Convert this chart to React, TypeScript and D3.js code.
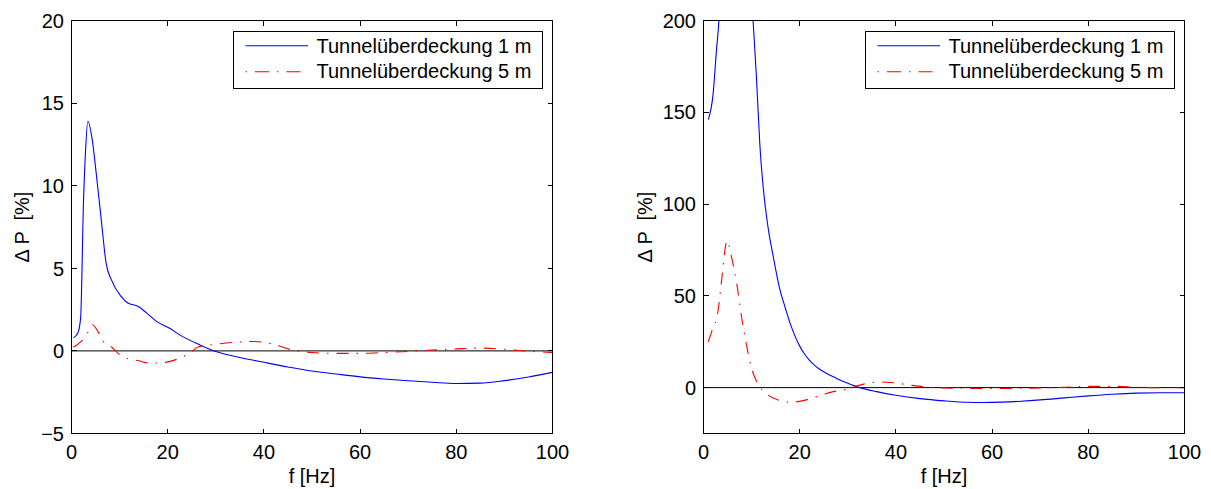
import { useMemo } from 'react';
import * as d3 from 'd3';

// left panel: Delta P [%] vs f [Hz]
const leftFreq1 = [0.4, 1.3, 1.9, 2.5, 2.9, 3.4, 4.3, 5.1, 6.2, 7.2, 8.3, 10.3, 11.7, 13.8, 15.6, 17.6, 20.4, 22.5, 26.7, 30, 35, 40, 45, 50, 55, 60, 65, 70, 75, 80, 85, 90, 95, 100];
const leftCover1 = [0.79, 1.07, 2.0, 9.1, 12.0, 13.9, 12.8, 10.85, 7.9, 5.3, 4.3, 3.3, 2.9, 2.7, 2.3, 1.8, 1.37, 0.97, 0.36, -0.04, -0.4, -0.69, -0.97, -1.22, -1.4, -1.57, -1.7, -1.81, -1.9, -1.97, -1.95, -1.8, -1.58, -1.3];
const leftFreq5 = [0.4, 2, 3.1, 4.4, 5.5, 6.9, 8.4, 10, 12.1, 14, 15.9, 18.3, 20.2, 22.5, 25, 26.3, 30, 34, 38, 42, 46, 50, 55, 60, 65, 70, 75, 80, 85, 90, 95, 100];
const leftCover5 = [0.22, 0.57, 0.97, 1.57, 1.17, 0.47, 0.22, -0.24, -0.5, -0.6, -0.73, -0.73, -0.65, -0.44, -0.05, 0.24, 0.4, 0.52, 0.57, 0.4, 0.05, -0.1, -0.15, -0.15, -0.1, -0.03, 0.05, 0.12, 0.17, 0.1, -0.02, -0.1];

// right panel
const rightFreq1 = [1, 2, 2.7, 3.2, 4, 5, 6, 7, 8, 9, 10.3, 11, 11.7, 12.4, 13.4, 14.5, 15.9, 17, 18, 19, 20, 21, 22, 23, 24, 25, 26, 27, 28, 30, 32.5, 36, 40, 45, 50, 55, 58, 62, 66, 70, 75, 80, 85, 90, 95, 100];
const rightCover1 = [146, 160, 184, 200, 260, 330, 380, 380, 330, 260, 200, 169.5, 133, 109.5, 87.7, 71.4, 53.2, 43.5, 35.1, 28.2, 22.6, 18.3, 15, 12.4, 10.3, 8.6, 7.2, 5.9, 4.6, 2.4, 0, -2.2, -4.2, -6, -7.2, -8, -8.1, -7.9, -7.4, -6.7, -5.6, -4.5, -3.6, -3.0, -2.8, -2.8];
const rightFreq5 = [1, 1.7, 3, 3.7, 4.9, 5.8, 6.9, 7.9, 9, 10, 11.7, 13.4, 15.5, 18, 20.7, 23.5, 27, 29.4, 33.3, 36.8, 39.6, 43.1, 46, 50, 55, 60, 65, 70, 75, 80, 85, 90, 95, 100];
const rightCover5 = [25, 30.5, 41.4, 56.9, 80, 71.4, 56.9, 38.7, 22.3, 10.6, 0.5, -4, -6.7, -8, -7.1, -4.9, -2.2, -1.1, 1.9, 3.1, 2.6, 1.3, 0.4, -0.2, -0.4, -0.5, -0.4, -0.2, 0.2, 0.7, 0.7, 0.2, -0.1, 0];

const xTicks = [0, 20, 40, 60, 80, 100];
const leftYTicks = [-5, 0, 5, 10, 15, 20];
const rightYTicks = [0, 50, 100, 150, 200];
const legendLabels = ['Tunnelüberdeckung 1 m', 'Tunnelüberdeckung 5 m'];

const FONT = '"Liberation Sans", Arial, Helvetica, sans-serif';
const fmt = d3.format('d');

function Panel({ id, x0, x1, yDomain, yTicks, f1, v1, f5, v5, labelX }) {
  const top = 20.5;
  const bottom = 433.5;
  const x = d3.scaleLinear().domain([0, 100]).range([x0, x1]);
  const y = d3.scaleLinear().domain(yDomain).range([bottom, top]);
  const line = d3.line().x(d => x(d[0])).y(d => y(d[1])).curve(d3.curveMonotoneX);
  const path1 = line(f1.map((f, i) => [f, v1[i]]));
  const path5 = line(f5.map((f, i) => [f, v5[i]]));
  const tl = 5;
  const lgRight = x1 - 10.5;
  const lgLeft = lgRight - 309;

  return (
    <g>
      <defs>
        <clipPath id={id}>
          <rect x={x0} y={top} width={x1 - x0} height={bottom - top} />
        </clipPath>
      </defs>
      <line x1={x(0)} x2={x(100)} y1={y(0)} y2={y(0)} stroke="#000" strokeWidth={1} />
      <g clipPath={`url(#${id})`}>
        <path d={path1} fill="none" stroke="#0000ff" strokeWidth={1.1} />
        <path d={path5} fill="none" stroke="#ff0000" strokeWidth={1.1} strokeDasharray="12,8,1.5,8" />
      </g>
      {/* ticks on all four sides, pointing inward */}
      <g stroke="#000" strokeWidth={1} shapeRendering="crispEdges">
        {xTicks.map(t => (
          <g key={'x' + t}>
            <line x1={x(t)} x2={x(t)} y1={bottom} y2={bottom - tl} />
            <line x1={x(t)} x2={x(t)} y1={top} y2={top + tl} />
          </g>
        ))}
        {yTicks.map(t => (
          <g key={'y' + t}>
            <line x1={x0} x2={x0 + tl} y1={y(t)} y2={y(t)} />
            <line x1={x1} x2={x1 - tl} y1={y(t)} y2={y(t)} />
          </g>
        ))}
        <rect x={x0} y={top} width={x1 - x0} height={bottom - top} fill="none" />
      </g>
      <g fontFamily={FONT} fontSize={20} fill="#000">
        {xTicks.map(t => (
          <text key={'xl' + t} x={x(t)} y={bottom + 25.5} textAnchor="middle">{fmt(t)}</text>
        ))}
        {yTicks.map(t => (
          <text key={'yl' + t} x={x0 - 7.5} y={y(t)} dy="0.36em" textAnchor="end">{fmt(t)}</text>
        ))}
        <text x={(x0 + x1) / 2} y={483} textAnchor="middle">f [Hz]</text>
        <text
          transform={`translate(${labelX},${(top + bottom) / 2}) rotate(-90)`}
          textAnchor="middle"
          style={{ whiteSpace: 'pre' }}
        >{'Δ P  [%]'}</text>
      </g>
      {/* legend */}
      <rect x={lgLeft} y={31.5} width={309} height={57} fill="#fff" stroke="#000" strokeWidth={1} shapeRendering="crispEdges" />
      <line x1={lgLeft + 12.5} x2={lgLeft + 75} y1={45.7} y2={45.7} stroke="#0000ff" strokeWidth={1.1} />
      <line x1={lgLeft + 12.5} x2={lgLeft + 75} y1={71.7} y2={71.7} stroke="#ff0000" strokeWidth={1.1} strokeDasharray="1.5,8,14,8" />
      <g fontFamily={FONT} fontSize={20} fill="#000">
        <text x={lgLeft + 83.5} y={53.3}>{legendLabels[0]}</text>
        <text x={lgLeft + 83.5} y={78.3}>{legendLabels[1]}</text>
      </g>
    </g>
  );
}

export default function App() {
  const panels = useMemo(() => [
    { id: 'clipL', x0: 71.5, x1: 552.5, yDomain: [-5, 20], yTicks: leftYTicks, f1: leftFreq1, v1: leftCover1, f5: leftFreq5, v5: leftCover5, labelX: 29 },
    { id: 'clipR', x0: 703.5, x1: 1184.5, yDomain: [-25, 200], yTicks: rightYTicks, f1: rightFreq1, v1: rightCover1, f5: rightFreq5, v5: rightCover5, labelX: 652 },
  ], []);

  return (
    <svg width={1211} height={489} style={{ position: 'absolute', left: 0, top: 0, background: '#fff' }}>
      <rect width={1211} height={489} fill="#fff" />
      {panels.map(p => <Panel key={p.id} {...p} />)}
    </svg>
  );
}
